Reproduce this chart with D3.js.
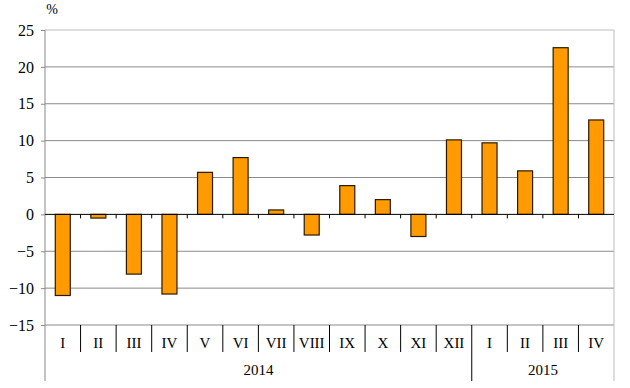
<!DOCTYPE html>
<html>
<head>
<meta charset="utf-8">
<script src="https://cdn.jsdelivr.net/npm/d3@7"></script>
<style>
  body { margin: 0; background: #fff; }
  svg text { font-family: "Liberation Serif", "Times New Roman", serif; fill: #000; }
</style>
</head>
<body>
<svg id="chart" width="630" height="388"></svg>
<script>
// month labels and values (% change)
const months = ['I', 'II', 'III', 'IV', 'V', 'VI', 'VII', 'VIII', 'IX', 'X', 'XI', 'XII', 'I', 'II', 'III', 'IV'];
const values = [-11.0, -0.5, -8.1, -10.8, 5.7, 7.7, 0.6, -2.8, 3.9, 2.0, -3.0, 10.1, 9.7, 5.9, 22.6, 12.8];
const years = ['2014', '2015'];
const yearCounts = [12, 4];
const yTicks = [-15, -10, -5, 0, 5, 10, 15, 20, 25];

const serif = '"Liberation Serif", "Times New Roman", serif';
const svg = d3.select('#chart');
const plotLeft = 45, plotRight = 614, plotTop = 30, plotBottom = 325;

const x = d3.scaleBand()
  .domain(d3.range(months.length))
  .range([plotLeft, plotRight])
  .paddingInner(0)
  .paddingOuter(0);

const y = d3.scaleLinear()
  .domain([-15, 25])
  .range([plotBottom, plotTop]);

// gridlines
svg.append('g')
  .selectAll('line')
  .data(yTicks.filter(d => d !== 0))
  .enter().append('line')
  .attr('x1', plotLeft).attr('x2', plotRight)
  .attr('y1', d => y(d)).attr('y2', d => y(d))
  .attr('stroke', d => d === 25 ? '#bdbdbd' : '#8a8a8a')
  .attr('stroke-width', 1);

// y axis
const yAxis = svg.append('g')
  .attr('transform', `translate(${plotLeft},0)`)
  .call(d3.axisLeft(y).tickValues(yTicks).tickSize(4).tickPadding(7));
yAxis.attr('font-family', null).attr('font-size', null);
yAxis.select('.domain').remove();
yAxis.selectAll('.tick line').attr('stroke', '#8a8a8a');
yAxis.selectAll('text')
  .style('font-family', serif)
  .style('font-size', '16px')
  .attr('fill', '#000');

// axis frame lines
svg.append('line')
  .attr('x1', plotLeft).attr('x2', plotLeft).attr('y1', plotTop).attr('y2', 381)
  .attr('stroke', '#8a8a8a');
svg.append('line')
  .attr('x1', plotRight).attr('x2', plotRight).attr('y1', plotTop).attr('y2', 381)
  .attr('stroke', '#bdbdbd');

// bars
const barW = 15;
svg.append('g')
  .selectAll('rect')
  .data(values)
  .enter().append('rect')
  .attr('x', (d, i) => x(i) + x.bandwidth() / 2 - barW / 2)
  .attr('y', d => y(Math.max(0, d)))
  .attr('width', barW)
  .attr('height', d => Math.abs(y(d) - y(0)))
  .attr('fill', '#ff9a00')
  .attr('stroke', '#2a1a00')
  .attr('stroke-width', 1.2);

// zero line with ticks
svg.append('line')
  .attr('x1', plotLeft).attr('x2', plotRight)
  .attr('y1', y(0)).attr('y2', y(0))
  .attr('stroke', '#000');
svg.append('g')
  .selectAll('line')
  .data(d3.range(1, months.length))
  .enter().append('line')
  .attr('x1', i => x(i)).attr('x2', i => x(i))
  .attr('y1', y(0)).attr('y2', y(0) + 4)
  .attr('stroke', '#000');

// category separators
svg.append('g')
  .selectAll('line')
  .data(d3.range(1, months.length))
  .enter().append('line')
  .attr('x1', i => x(i)).attr('x2', i => x(i))
  .attr('y1', plotBottom).attr('y2', i => i === yearCounts[0] ? 381 : 352)
  .attr('stroke', '#000');

// month labels
svg.append('g')
  .selectAll('text')
  .data(months)
  .enter().append('text')
  .attr('x', (d, i) => x(i) + x.bandwidth() / 2)
  .attr('y', 348)
  .attr('text-anchor', 'middle')
  .style('font-family', serif)
  .style('font-size', '15px')
  .text(d => d);

// year labels
let start = 0;
years.forEach((yr, k) => {
  const x0 = x(start), x1 = x(start + yearCounts[k] - 1) + x.bandwidth();
  svg.append('text')
    .attr('x', (x0 + x1) / 2)
    .attr('y', 375)
    .attr('text-anchor', 'middle')
    .style('font-family', serif)
    .style('font-size', '15px')
    .text(yr);
  start += yearCounts[k];
});

// unit label
svg.append('text')
  .attr('x', 52).attr('y', 14)
  .attr('text-anchor', 'middle')
  .style('font-family', serif)
  .style('font-size', '14px')
  .text('%');
</script>
</body>
</html>
